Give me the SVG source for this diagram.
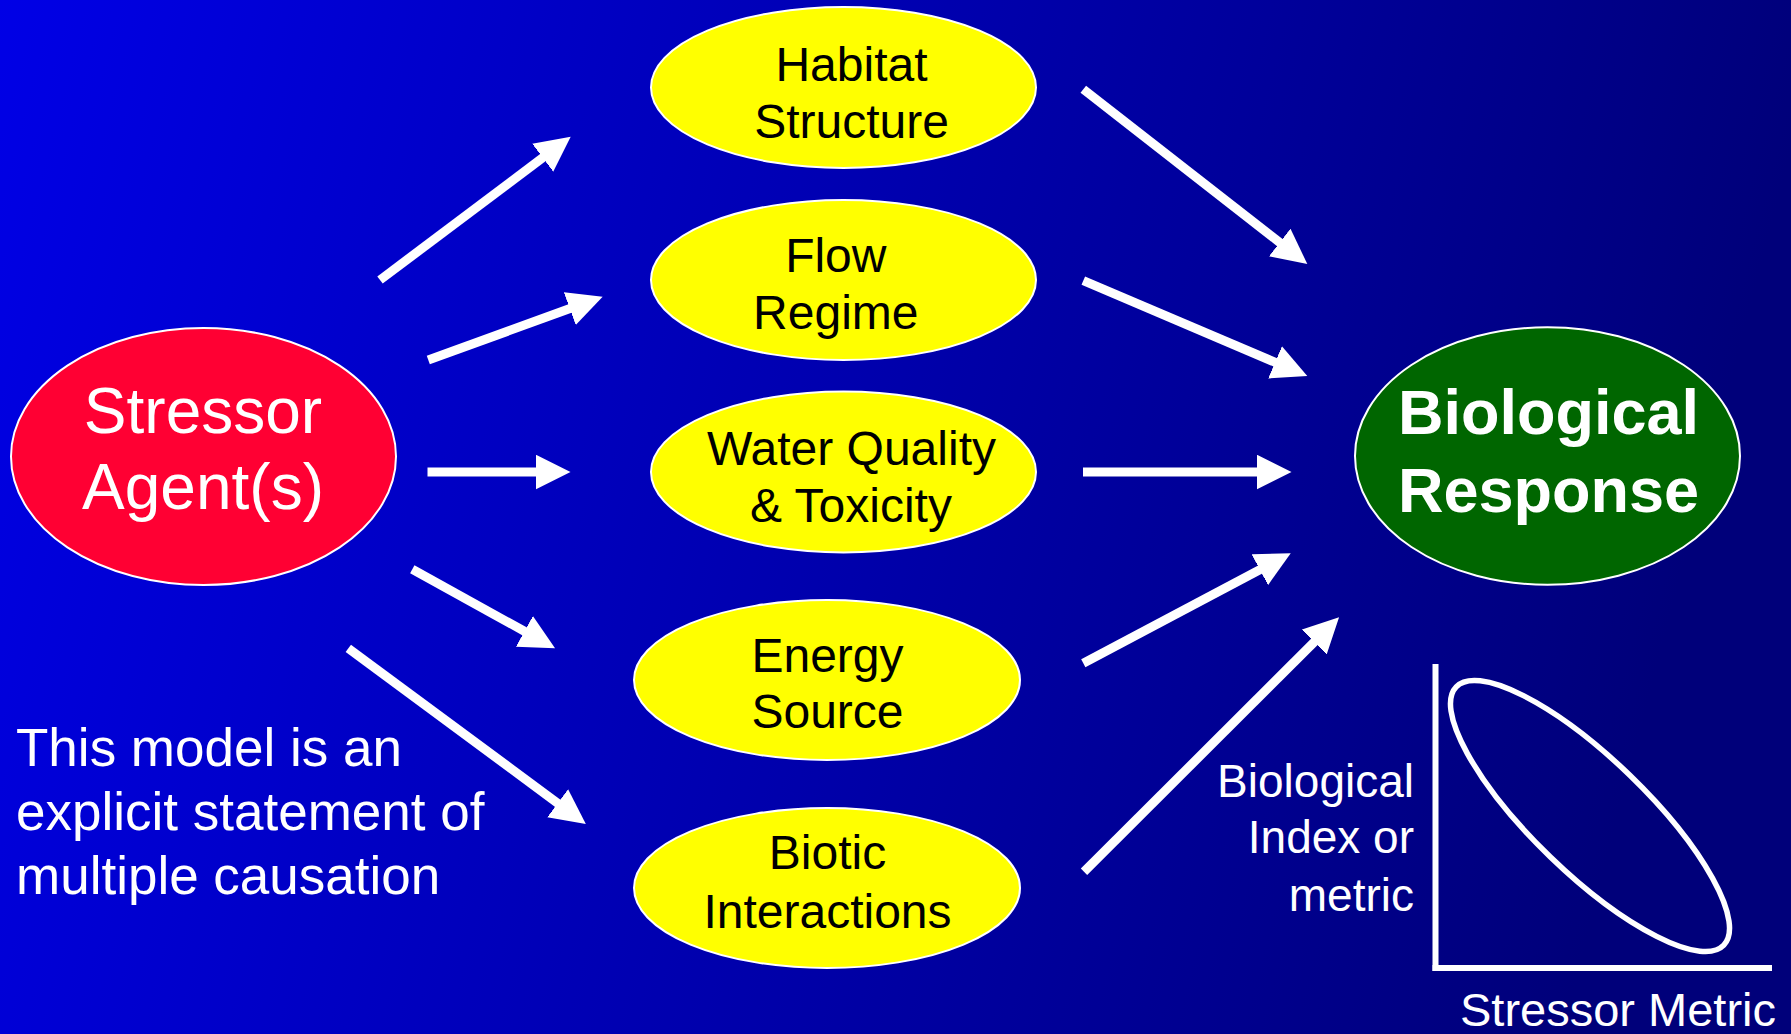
<svg xmlns="http://www.w3.org/2000/svg" width="1791" height="1034" viewBox="0 0 1791 1034">
<defs>
<linearGradient id="bg" x1="0" y1="0" x2="1" y2="0.15">
<stop offset="0" stop-color="#0000E6"/>
<stop offset="1" stop-color="#00007A"/>
</linearGradient>
<marker id="ah" markerUnits="userSpaceOnUse" markerWidth="36" markerHeight="36" refX="1" refY="17.5" orient="auto" viewBox="0 0 36 36">
<path d="M0,0 L35,17.5 L0,35 Z" fill="#FFFFFF"/>
</marker>
<style>
.mid{fill:#FFFF00;stroke:#FFFFFF;stroke-width:2}
.mt{font-family:"Liberation Sans",Arial,sans-serif;font-size:48px;fill:#000000;text-anchor:middle}
.wt{font-family:"Liberation Sans",Arial,sans-serif;fill:#FFFFFF}
.arr{stroke:#FFFFFF;stroke-width:9;fill:none;marker-end:url(#ah)}
</style>
</defs>
<rect x="0" y="0" width="1791" height="1034" fill="url(#bg)"/>

<g id="stressor">
<ellipse cx="203.5" cy="456.5" rx="192.5" ry="128.5" fill="#FF0033" stroke="#FFFFFF" stroke-width="2"/>
<text class="wt" x="203" y="433" font-size="64" text-anchor="middle">Stressor</text>
<text class="wt" x="203" y="509" font-size="64" text-anchor="middle">Agent(s)</text>
</g>

<g id="habitat">
<ellipse class="mid" cx="843.5" cy="87.5" rx="192.5" ry="80.5"/>
<text class="mt" x="851.5" y="81">Habitat</text>
<text class="mt" x="851.5" y="138">Structure</text>
</g>

<g id="flow">
<ellipse class="mid" cx="843.5" cy="280" rx="192.5" ry="80"/>
<text class="mt" x="835.8" y="272">Flow</text>
<text class="mt" x="835.8" y="329">Regime</text>
</g>

<g id="water">
<ellipse class="mid" cx="843.5" cy="472" rx="192.5" ry="80.5"/>
<text class="mt" x="851.5" y="465">Water Quality</text>
<text class="mt" x="851" y="521.5">&amp; Toxicity</text>
</g>

<g id="energy">
<ellipse class="mid" cx="827" cy="680" rx="193" ry="80"/>
<text class="mt" x="827.5" y="672">Energy</text>
<text class="mt" x="827.5" y="728">Source</text>
</g>

<g id="biotic">
<ellipse class="mid" cx="827" cy="888" rx="193" ry="80"/>
<text class="mt" x="827.5" y="869">Biotic</text>
<text class="mt" x="827.5" y="928">Interactions</text>
</g>

<g id="response">
<ellipse cx="1547.5" cy="456" rx="192.5" ry="128.7" fill="#006600" stroke="#FFFFFF" stroke-width="2"/>
<text class="wt" x="1548.5" y="434" font-size="63" font-weight="bold" text-anchor="middle">Biological</text>
<text class="wt" x="1548.5" y="512" font-size="63" font-weight="bold" text-anchor="middle">Response</text>
</g>

<g id="note">
<text class="wt" x="16" y="766" font-size="53">This model is an</text>
<text class="wt" x="16" y="830" font-size="53">explicit statement of</text>
<text class="wt" x="16" y="894" font-size="53">multiple causation</text>
</g>

<g id="graph">
<line x1="1435.5" y1="664" x2="1435.5" y2="971" stroke="#FFFFFF" stroke-width="6"/>
<line x1="1432.5" y1="968" x2="1772" y2="968" stroke="#FFFFFF" stroke-width="6"/>
<ellipse cx="1590" cy="816" rx="186" ry="57" transform="rotate(44 1590 816)" fill="none" stroke="#FFFFFF" stroke-width="5.5"/>
<text class="wt" x="1414" y="797" font-size="46" text-anchor="end">Biological</text>
<text class="wt" x="1414" y="853" font-size="46" text-anchor="end">Index or</text>
<text class="wt" x="1414" y="911" font-size="46" text-anchor="end">metric</text>
<text class="wt" x="1776" y="1026" font-size="47" text-anchor="end">Stressor Metric</text>
</g>

<g id="connectors">
<line class="arr" x1="380" y1="280" x2="543.5" y2="157.1"/>
<line class="arr" x1="428.3" y1="360" x2="570.7" y2="308.3"/>
<line class="arr" x1="427.5" y1="472" x2="536.5" y2="472"/>
<line class="arr" x1="412.3" y1="569.3" x2="525.3" y2="631.8"/>
<line class="arr" x1="348.3" y1="648.3" x2="558.5" y2="803.8"/>
<line class="arr" x1="1083.3" y1="89.3" x2="1280.5" y2="243.1"/>
<line class="arr" x1="1083.3" y1="280.7" x2="1276" y2="362.7"/>
<line class="arr" x1="1083" y1="472" x2="1257.5" y2="472"/>
<line class="arr" x1="1083.3" y1="663.3" x2="1260.7" y2="569.2"/>
<line class="arr" x1="1084" y1="871.7" x2="1315" y2="641.3"/>
</g>
</svg>
